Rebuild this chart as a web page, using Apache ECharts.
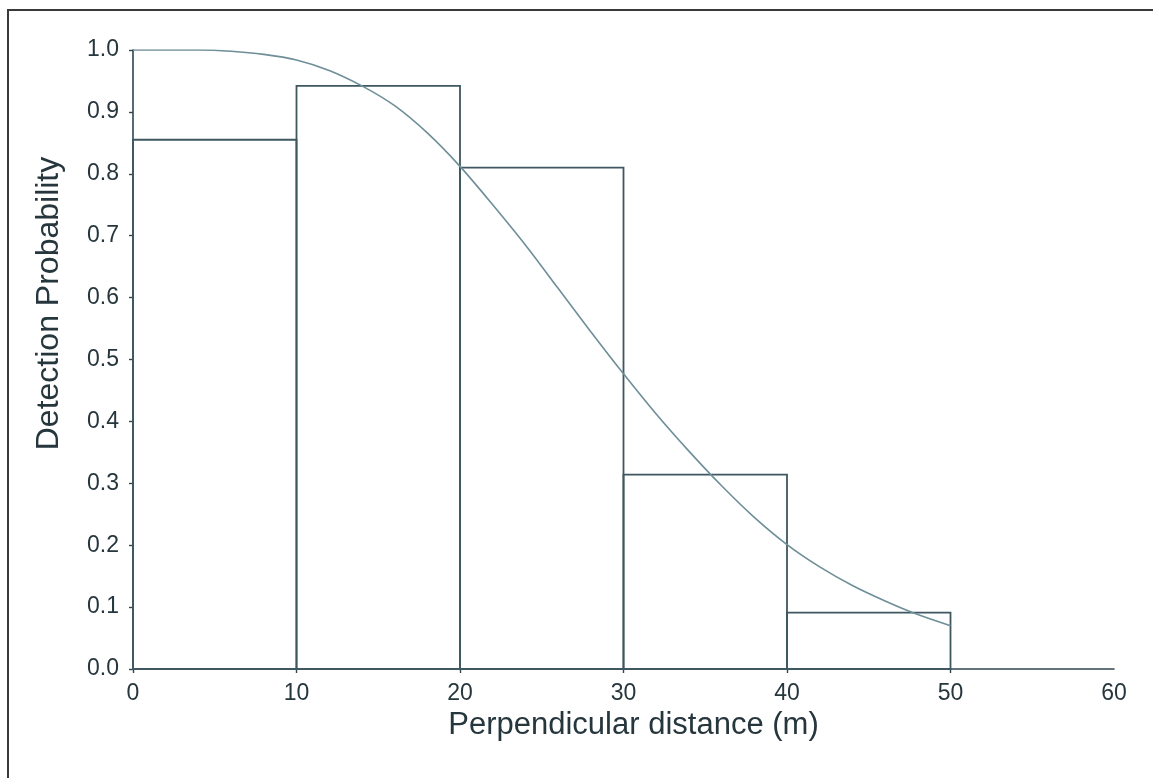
<!DOCTYPE html>
<html>
<head>
<meta charset="utf-8">
<script src="https://cdn.jsdelivr.net/npm/echarts@6/dist/echarts.min.js"></script>
<style>
html,body{margin:0;padding:0;background:#fff;}
#chart{width:1153px;height:778px;}
</style>
</head>
<body>
<div id="chart"></div>
<script>
// Histogram bins (perpendicular distance, m) and detection probability heights
const binStart = [0, 10, 20, 30, 40];
const binEnd = [10, 20, 30, 40, 50];
const binHeight = [0.855, 0.942, 0.810, 0.314, 0.091];

// Fitted detection function
const curveX = [0, 2, 4, 6, 8, 10, 12, 14, 16, 18, 20, 22, 24, 26, 28, 30, 32, 34, 36, 38, 40, 42, 44, 46, 48, 50];
const curveY = [1.000, 1.000, 1.000, 0.998, 0.993, 0.984, 0.967, 0.942, 0.910, 0.866, 0.812, 0.750, 0.685, 0.615, 0.545, 0.477, 0.412, 0.352, 0.296, 0.245, 0.201, 0.165, 0.135, 0.110, 0.088, 0.070];

// Tick labels
const xTicks = [0, 10, 20, 30, 40, 50, 60];
const xTickMarks = [0, 10, 20, 30, 40, 50];
const yTicks = [0, 0.1, 0.2, 0.3, 0.4, 0.5, 0.6, 0.7, 0.8, 0.9, 1.0];

const barData = binStart.map((s, i) => [s, binEnd[i], binHeight[i]]);
const curveData = curveX.map((x, i) => [x, curveY[i]]);

const txt = '#26363d';
const axisCol = '#30454e';
const font = '"Liberation Sans", Arial, Helvetica, sans-serif';

const chart = echarts.init(document.getElementById('chart'), null, {renderer: 'canvas'});
chart.setOption({
  backgroundColor: '#ffffff',
  animation: false,
  graphic: [{
    type: 'rect',
    shape: {x: 8, y: 10, width: 1300, height: 900},
    style: {fill: 'none', stroke: '#3a3a3a', lineWidth: 2},
    silent: true
  }],
  grid: {left: 133, right: 39, top: 50, bottom: 109, containLabel: false},
  xAxis: {
    type: 'value',
    min: 0, max: 60, interval: 10,
    name: 'Perpendicular distance (m)',
    nameLocation: 'middle',
    nameGap: 38,
    nameTextStyle: {fontFamily: font, fontSize: 31, color: txt, padding: [0, 0, 0, 20]},
    axisLine: {show: true, lineStyle: {color: axisCol, width: 1.6}},
    axisTick: {show: true, length: 4, inside: false, customValues: xTickMarks, lineStyle: {color: axisCol, width: 1.4}},
    axisLabel: {fontFamily: font, fontSize: 23, color: txt, margin: 13, customValues: xTicks, formatter: v => String(v)},
    splitLine: {show: false}
  },
  yAxis: {
    type: 'value',
    min: 0, max: 1, interval: 0.1,
    name: 'Detection Probability',
    nameLocation: 'middle',
    nameGap: 68,
    nameRotate: 90,
    nameTextStyle: {fontFamily: font, fontSize: 32, color: txt, padding: [0, 0, 0, 112]},
    axisLine: {show: true, lineStyle: {color: axisCol, width: 1.6}},
    axisTick: {show: true, length: 4, inside: false, lineStyle: {color: axisCol, width: 1.4}},
    axisLabel: {fontFamily: font, fontSize: 23, color: txt, margin: 14, customValues: yTicks, formatter: v => v.toFixed(1)},
    splitLine: {show: false}
  },
  series: [
    {
      type: 'custom',
      data: barData,
      encode: {x: [0, 1], y: 2},
      clip: false,
      z: 2,
      renderItem: function (params, api) {
        const p0 = api.coord([api.value(0), api.value(2)]);
        const p1 = api.coord([api.value(1), 0]);
        return {
          type: 'rect',
          shape: {x: p0[0], y: p0[1], width: p1[0] - p0[0], height: p1[1] - p0[1]},
          style: {fill: 'none', stroke: '#3e5761', lineWidth: 1.8}
        };
      }
    },
    {
      type: 'line',
      data: curveData,
      smooth: 0.3,
      showSymbol: false,
      z: 3,
      lineStyle: {color: '#6e8e98', width: 1.6}
    }
  ]
});
</script>
</body>
</html>
